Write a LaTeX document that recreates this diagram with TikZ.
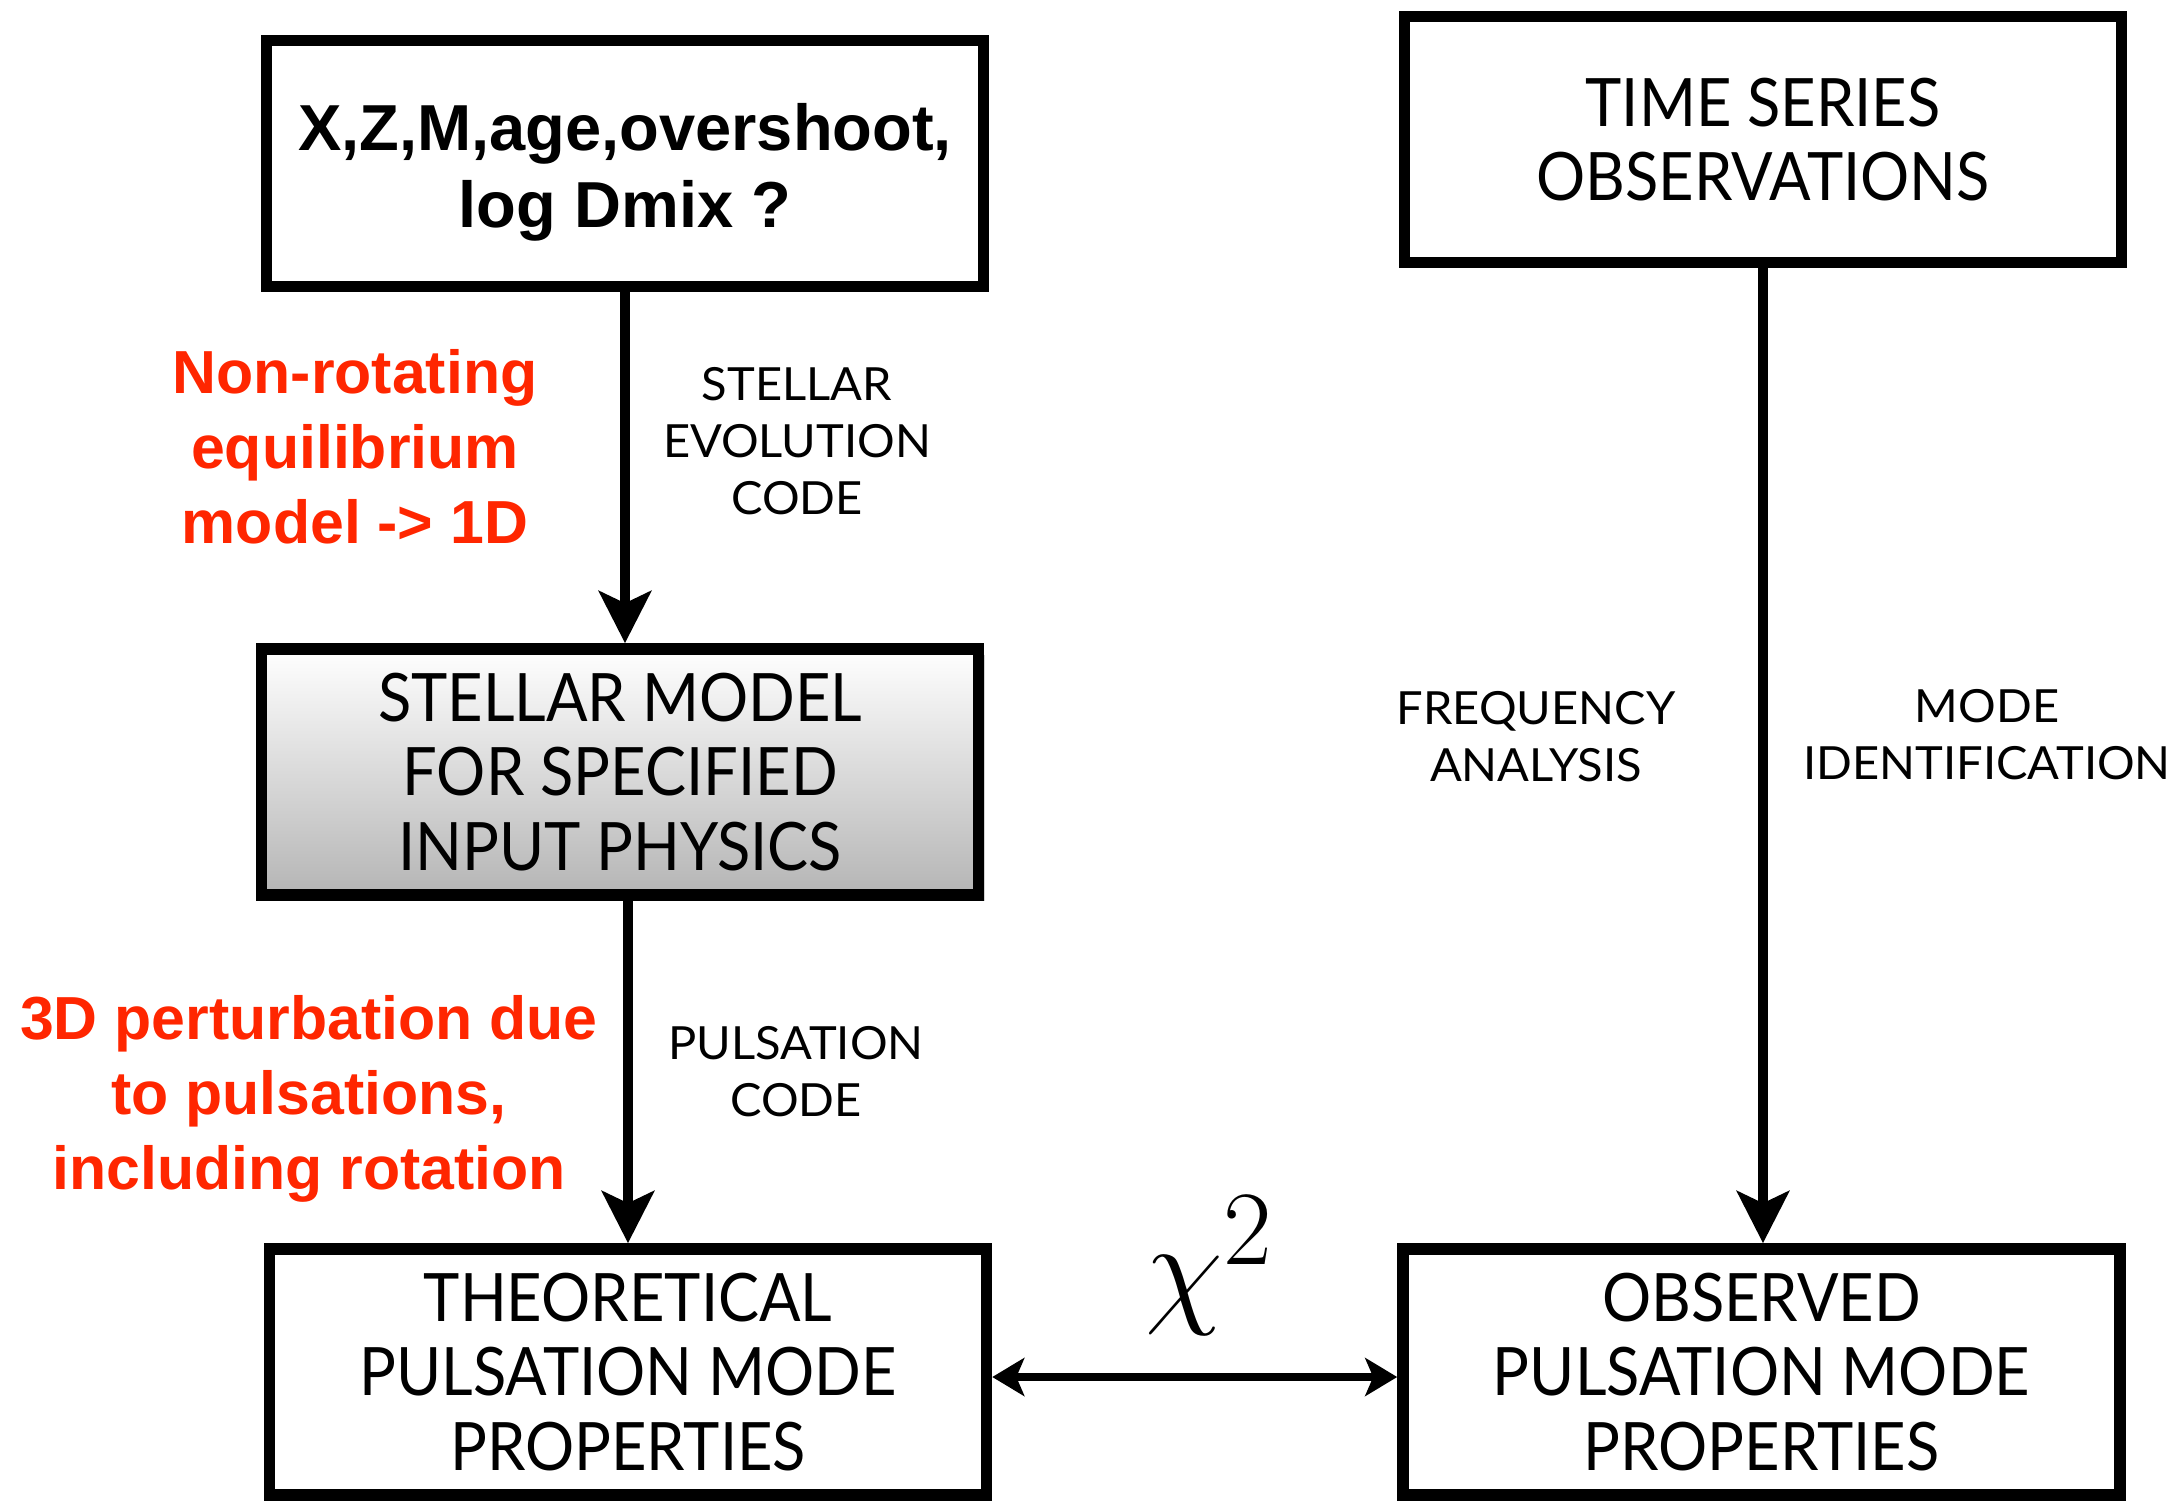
\documentclass[tikz,border=0pt]{standalone}
\usepackage{fontspec}
\setmainfont{Lato}
\newfontfamily\boxfont{Lato}[FakeStretch=0.92]
\newfontfamily\lblfont{Lato}[FakeStretch=1.03]
\newfontfamily\boldsans{Liberation Sans}
\usetikzlibrary{positioning,arrows.meta,shadows}
\definecolor{notered}{RGB}{255,38,0}

\begin{document}
\begin{tikzpicture}[
  box/.style={draw,line width=3.3pt,minimum width=7.17cm,minimum height=2.46cm,align=center,
              inner sep=0pt,font=\boxfont\fontsize{19}{21.3}\selectfont},
  shadedbox/.style={box,top color=white,bottom color=gray!58,
              drop shadow={opacity=0.35,shadow xshift=0.06cm,shadow yshift=-0.06cm}},
  lbl/.style={align=center,font=\lblfont\fontsize{13}{16.2}\selectfont},
  note/.style={align=center,text=notered,font=\boldsans\bfseries\fontsize{17.3}{21.3}\selectfont},
  arr/.style={-{Stealth[length=0.52cm,width=0.52cm,inset=0.12cm]},line width=3pt},
  dbl/.style={{Stealth[length=0.32cm,width=0.38cm,inset=0.08cm]}-{Stealth[length=0.32cm,width=0.38cm,inset=0.08cm]},
              line width=2.3pt}]
\useasboundingbox (0,0) rectangle (21.81,-15);

\node[box,font=\boldsans\bfseries\fontsize{18.5}{21.9}\selectfont] (params) at (6.25,-1.635)
  {\rule{0pt}{0.64cm}X,Z,M,age,overshoot,\\log Dmix ?};
\node[box]       (series)   at (17.63,-1.395) {TIME SERIES\\OBSERVATIONS};
\node[shadedbox] (model)    at (6.20,-7.72)   {STELLAR MODEL\\FOR SPECIFIED\\INPUT PHYSICS};
\node[box]       (theory)   at (6.28,-13.72)  {THEORETICAL\\PULSATION MODE\\PROPERTIES};
\node[box]       (observed) at (17.615,-13.72){OBSERVED\\PULSATION MODE\\PROPERTIES};

\node[lbl]  (evolabel)   at (7.97,-4.41)  {STELLAR\\EVOLUTION\\CODE};
\node[lbl]  (pulslabel)  at (7.96,-10.72) {PULSATION\\CODE};
\node[lbl]  (freqlabel)  at (15.36,-7.37) {FREQUENCY\\ANALYSIS};
\node[lbl]  (modelabel)  at (19.87,-7.35) {MODE\\IDENTIFICATION};
\node[note] (onednote)   at (3.55,-4.47)  {Non-rotating\\equilibrium\\model -> 1D};
\node[note] (threednote) at (3.09,-10.99) {3D perturbation due\\to pulsations,\\including rotation};
\node       (chisq)      at (12.1,-12.66) {\fontsize{24.88}{30}\selectfont\scalebox{1.45}{$\chi^2$}};

\draw[arr] (params.south) -- (params.south |- model.north);
\draw[arr] (model.south -| theory.north) -- (theory.north);
\draw[arr] (series.south) -- (series.south |- observed.north);
\draw[dbl] ([yshift=-0.05cm]theory.east) -- ([yshift=-0.05cm]observed.west);
\end{tikzpicture}
\end{document}
